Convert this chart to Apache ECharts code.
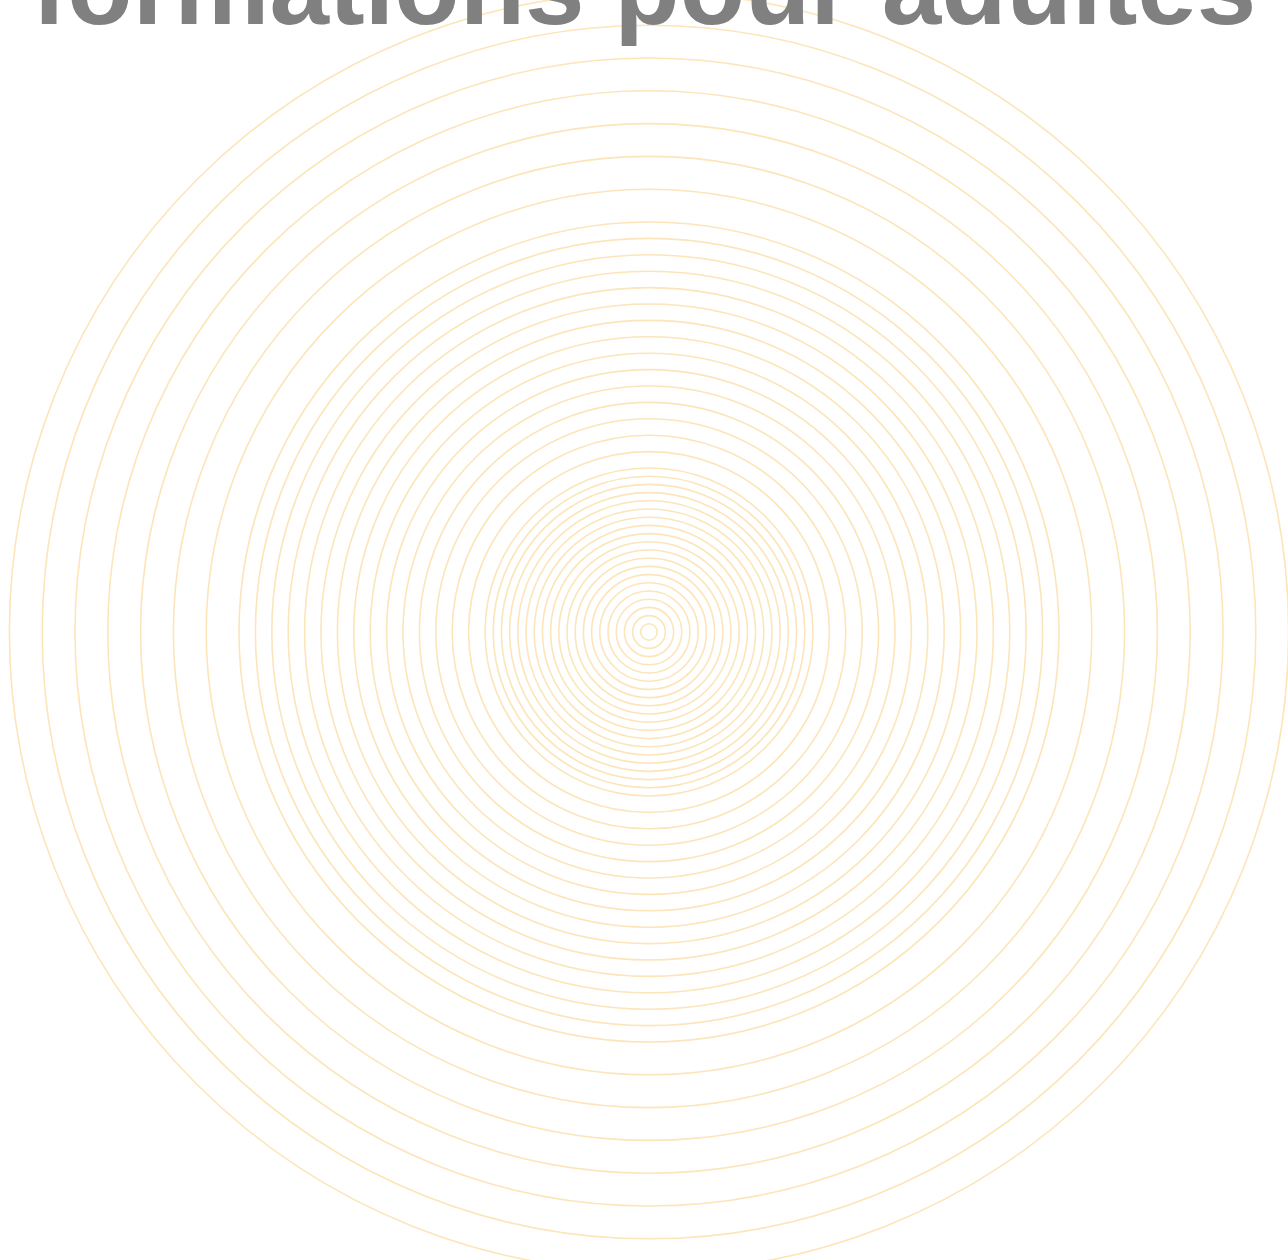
<!DOCTYPE html>
<html>
<head>
<meta charset="utf-8">
<script src="https://cdn.jsdelivr.net/npm/echarts@6/dist/echarts.min.js"></script>
<style>
  html, body { margin: 0; padding: 0; background: #ffffff; }
  #chart { width: 1288px; height: 1260px; }
</style>
</head>
<body>
<div id="chart"></div>
<script>
// rayons des cercles (unités de l'axe)
const rayons = [
    1, 2, 3, 4, 5, 6, 7, 8, 9, 10,
    11, 12, 13, 14, 15, 16, 17, 18, 19, 20,
    22, 24, 26, 28, 30, 32, 34, 36, 38, 40,
    42, 44, 46, 48, 50,
    54, 58, 62, 66, 70, 74, 78
];
const titre = "formations pour adultes";
const centre = [0, 0];

const chart = echarts.init(document.getElementById('chart'));

chart.setOption({
    backgroundColor: '#ffffff',
    animation: false,
    title: {
        text: titre,
        left: 'center',
        top: -64,
        textStyle: {
            fontFamily: 'Liberation Sans',
            fontSize: 107,
            fontWeight: 'bold',
            color: '#808080'
        }
    },
    grid: { left: 75, top: 58, width: 1148, height: 1148 },
    xAxis: { type: 'value', min: -70, max: 70, show: false },
    yAxis: { type: 'value', min: -70, max: 70, show: false },
    series: [{
        type: 'custom',
        silent: true,
        clip: false,
        z: 1,
        data: rayons.map(r => [centre[0], centre[1], r]),
        encode: { x: 0, y: 1 },
        renderItem: function (params, api) {
            const c = api.coord([api.value(0), api.value(1)]);
            const r = api.size([api.value(2), 0])[0];
            return {
                type: 'circle',
                shape: { cx: c[0], cy: c[1], r: r },
                style: { fill: 'none', stroke: '#fce5b9', lineWidth: 1.6 }
            };
        }
    }]
});
</script>
</body>
</html>
